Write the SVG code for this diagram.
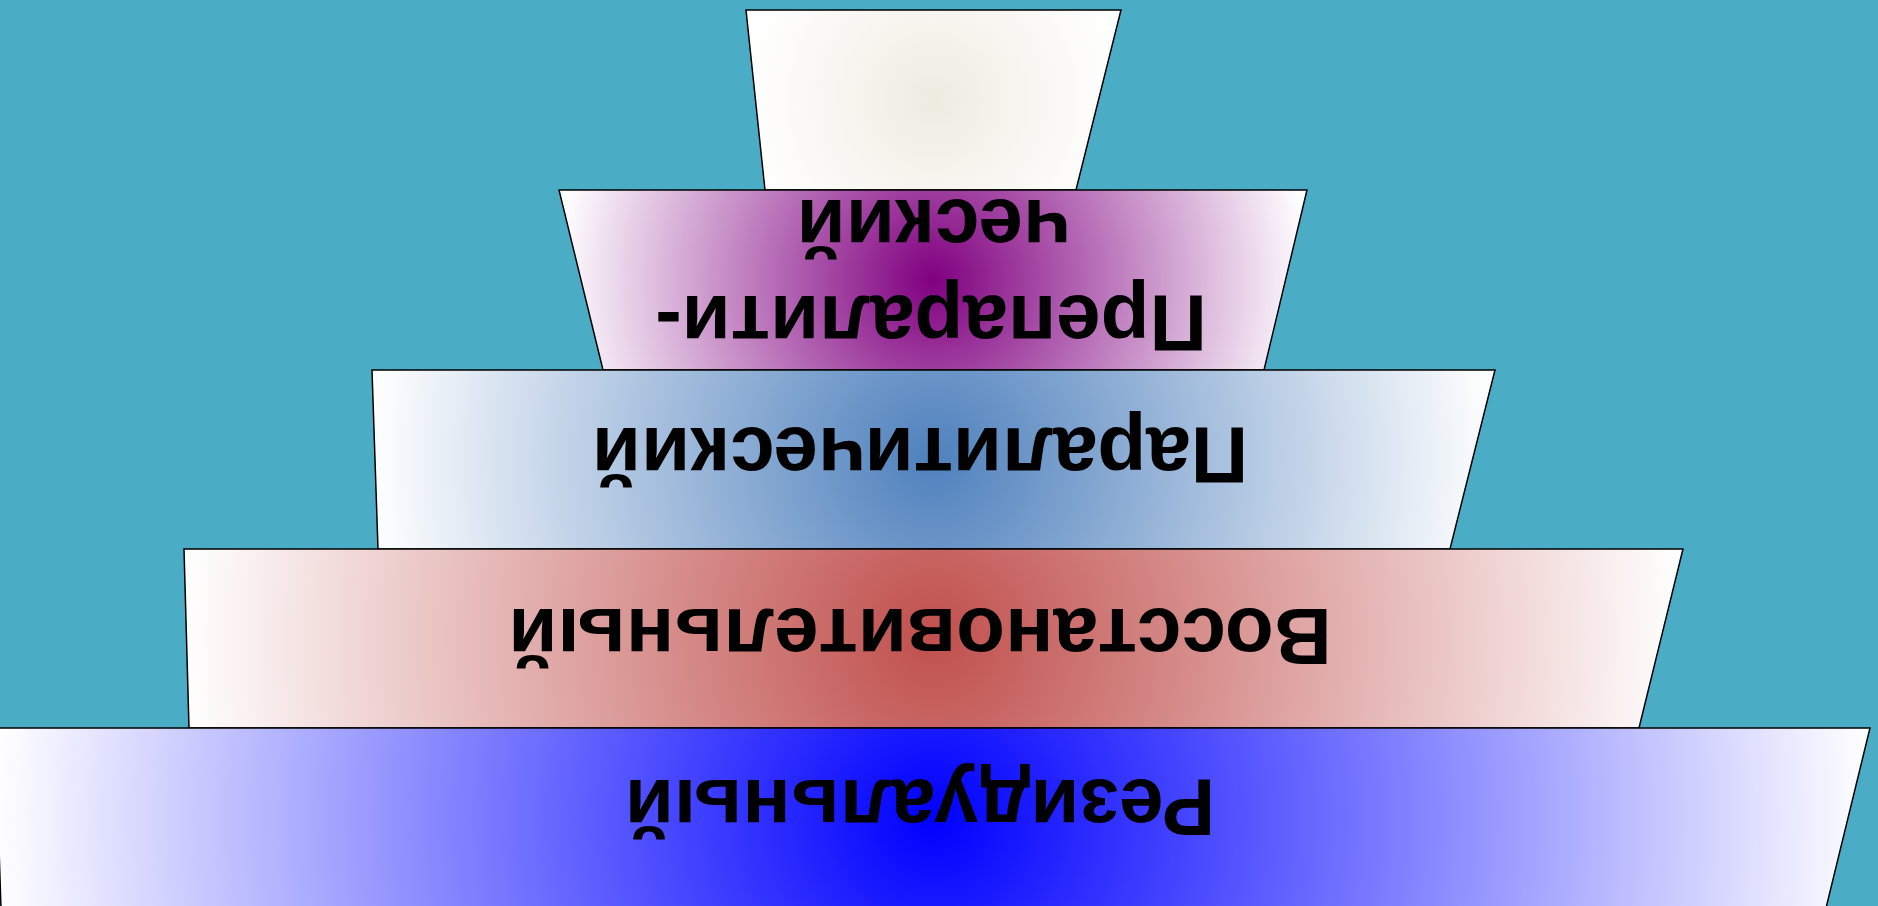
<svg xmlns="http://www.w3.org/2000/svg" width="1878" height="906" viewBox="0 0 1878 906">
<style>
.trap{stroke:#000;stroke-width:1.5;stroke-linejoin:miter}
.lbl{font-family:"Liberation Sans",Arial,sans-serif;font-weight:bold;font-size:80px;fill:#000;text-anchor:middle}
</style>
<defs>
<radialGradient id="g1" gradientUnits="userSpaceOnUse" cx="933" cy="100" r="190">
<stop offset="0" stop-color="#EEECE1"/><stop offset="1" stop-color="#FFFFFF"/>
</radialGradient>
<radialGradient id="g2" gradientUnits="userSpaceOnUse" cx="933" cy="280" r="376">
<stop offset="0" stop-color="#800080"/><stop offset="1" stop-color="#FFFFFF"/>
</radialGradient>
<radialGradient id="g3" gradientUnits="userSpaceOnUse" cx="933" cy="459" r="563">
<stop offset="0" stop-color="#4F81BD"/><stop offset="1" stop-color="#FFFFFF"/>
</radialGradient>
<radialGradient id="g4" gradientUnits="userSpaceOnUse" cx="933" cy="638" r="751">
<stop offset="0" stop-color="#C0504D"/><stop offset="1" stop-color="#FFFFFF"/>
</radialGradient>
<radialGradient id="g5" gradientUnits="userSpaceOnUse" cx="933" cy="818" r="938">
<stop offset="0" stop-color="#0000FF"/><stop offset="1" stop-color="#FFFFFF"/>
</radialGradient>
</defs>
<rect x="0" y="0" width="1878" height="906" fill="#4BACC6"/>
<g id="level1">
<polygon class="trap" fill="url(#g1)" points="746,10 1121,10 1076,190 765,190"/>
</g>
<g id="level2">
<polygon class="trap" fill="url(#g2)" points="559,190 1307,190 1264,370 603,370"/>
<text class="lbl" transform="rotate(180 931 296)" x="931" y="296">Препаралити-</text>
<text class="lbl" transform="rotate(180 933 200)" x="933" y="200">ческий</text>
</g>
<g id="level3">
<polygon class="trap" fill="url(#g3)" points="372,370 1495,370 1450,549 378,549"/>
<text class="lbl" transform="rotate(180 920 428)" x="920" y="428">Паралитический</text>
</g>
<g id="level4">
<polygon class="trap" fill="url(#g4)" points="184,549 1683,549 1639,728 189,728"/>
<text class="lbl" transform="rotate(180 920 609)" x="920" y="609">Восстановительный</text>
</g>
<g id="level5">
<polygon class="trap" fill="url(#g5)" points="-5,728 1870,728 1826,908 1,908"/>
<text class="lbl" transform="rotate(180 920 780)" x="920" y="780">Резидуальный</text>
</g>
<g id="connectors"/>
</svg>
